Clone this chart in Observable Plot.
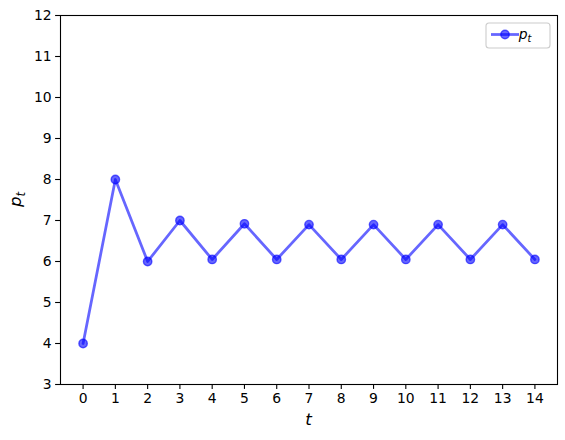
<!DOCTYPE html>
<html>
<head>
<meta charset="utf-8">
<script src="https://cdn.jsdelivr.net/npm/d3@7"></script>
<script src="https://cdn.jsdelivr.net/npm/@observablehq/plot@0.6"></script>
<style>
  html, body { margin: 0; padding: 0; background: #fff; }
  #wrap { position: relative; width: 565px; height: 440px; }
</style>
</head>
<body>
<div id="wrap"></div>
<script>
const t = d3.range(0, 15);
const p = [4, 8, 6, 7, 6.05, 6.92, 6.05, 6.9, 6.05, 6.9, 6.05, 6.9, 6.05, 6.9, 6.05];
const xTicks = d3.range(0, 15);
const yTicks = d3.range(3, 13);
const seriesLabel = "p_t";

const data = t.map((d, i) => ({t: d, p: p[i]}));
const blue = "#0000ff";
const font = "DejaVu Sans";

const chart = Plot.plot({
  width: 565,
  height: 440,
  marginLeft: 60,
  marginRight: 8,
  marginTop: 15,
  marginBottom: 56,
  style: {fontFamily: font, fontSize: "13.9px", color: "#000", background: "#fff"},
  x: {domain: [-0.7, 14.7]},
  y: {domain: [3, 12]},
  marks: [
    Plot.axisX({ticks: xTicks, tickSize: 4.9, tickPadding: 4, label: null, fontSize: 13.9, strokeWidth: 1.1}),
    Plot.axisY({ticks: yTicks, tickSize: 4.9, tickPadding: 4, label: null, fontSize: 13.9, strokeWidth: 1.1}),
    Plot.line(data, {x: "t", y: "p", stroke: blue, strokeOpacity: 0.6, strokeWidth: 2.78}),
    Plot.dot(data, {x: "t", y: "p", r: 4.2, fill: blue, fillOpacity: 0.6, stroke: blue, strokeOpacity: 0.6, strokeWidth: 1.4}),
    Plot.frame({stroke: "#000", strokeWidth: 1.1, strokeOpacity: 1})
  ]
});

const svg = d3.select(chart);
// axis labels (mathtext-like)
svg.append("text")
  .attr("x", 60 + (565 - 68) / 2).attr("y", 425)
  .attr("text-anchor", "middle")
  .attr("font-family", font).attr("font-size", 16.7).attr("font-style", "italic")
  .text("t");
const yl = svg.append("text")
  .attr("transform", `translate(21, ${15 + 369 / 2}) rotate(-90)`)
  .attr("text-anchor", "middle")
  .attr("font-family", font).attr("font-size", 16.7).attr("font-style", "italic");
yl.append("tspan").text(seriesLabel.split("_")[0]);
yl.append("tspan").attr("font-size", 11.7).attr("dy", 3.5).text(seriesLabel.split("_")[1]);

// legend
const lg = svg.append("g").attr("transform", "translate(486, 23)");
lg.append("rect").attr("width", 64).attr("height", 25).attr("rx", 3)
  .attr("fill", "#fff").attr("fill-opacity", 0.8).attr("stroke", "#cccccc").attr("stroke-width", 1.1);
lg.append("line").attr("x1", 5).attr("x2", 33).attr("y1", 11.5).attr("y2", 11.5)
  .attr("stroke", blue).attr("stroke-opacity", 0.6).attr("stroke-width", 2.78);
lg.append("circle").attr("cx", 19).attr("cy", 11.5).attr("r", 4.2)
  .attr("fill", blue).attr("fill-opacity", 0.6).attr("stroke", blue).attr("stroke-opacity", 0.6).attr("stroke-width", 1.4);
const lt = lg.append("text").attr("x", 39).attr("y", 16)
  .attr("font-family", font).attr("font-size", 13.9).attr("font-style", "italic");
lt.append("tspan").text(seriesLabel.split("_")[0]);
lt.append("tspan").attr("font-size", 9.7).attr("dy", 2.5).text(seriesLabel.split("_")[1]);

document.getElementById("wrap").appendChild(chart);
</script>
</body>
</html>
